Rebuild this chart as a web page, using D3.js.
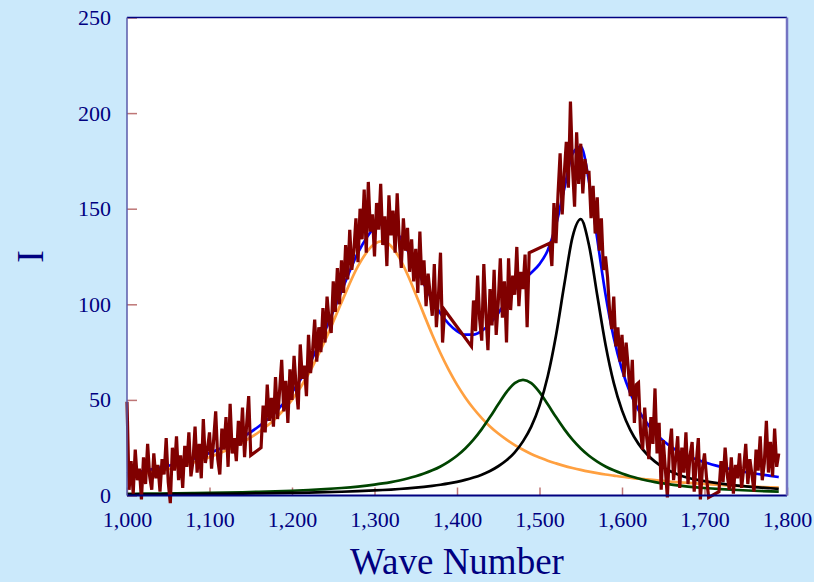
<!DOCTYPE html>
<html>
<head>
<meta charset="utf-8">
<script src="https://cdn.jsdelivr.net/npm/d3@7"></script>
<style>
  html, body { margin: 0; padding: 0; background: #cbe9fb; }
  svg { display: block; font-family: "Liberation Serif", "Times New Roman", serif; }
</style>
</head>
<body>
<div id="chart"></div>
<script>
//-- x positions where the fitted curves were sampled
const fitWave = [1000, 1020, 1040, 1060, 1080, 1100, 1120, 1140, 1160, 1180, 1200, 1220, 1240, 1260, 1280, 1300,
  1310, 1320, 1330, 1340, 1350, 1360, 1370, 1380, 1390, 1400, 1410, 1420, 1430, 1440, 1450, 1460, 1470, 1480, 1490,
  1500, 1510, 1520, 1530, 1540, 1550, 1560, 1570, 1580, 1590, 1600, 1610, 1620, 1630, 1640, 1650, 1660, 1670, 1680,
  1690, 1700, 1720, 1740, 1760, 1780, 1790];
//-- fit components
const fitOrange = [10.0, 11.3, 12.9, 14.8, 17.1, 20.0, 23.5, 27.8, 33.2, 40.2, 50.0, 63.5, 81.0, 101.0, 120.0, 131.6,
  133.0, 130.5, 124.4, 115.6, 105.3, 94.6, 84.1, 74.4, 65.7, 58.0, 51.3, 45.5, 40.5, 36.1, 32.4, 29.2, 26.3, 23.9, 21.7,
  19.9, 18.2, 16.8, 15.5, 14.4, 13.4, 12.5, 11.7, 11.0, 10.4, 9.8, 9.3, 8.8, 8.4, 8.0, 7.6, 7.2, 6.9, 6.6,
  6.3, 6.0, 5.5, 5.0, 4.6, 4.3, 4.1];
const fitGreen = [0.87, 0.95, 1.03, 1.13, 1.25, 1.38, 1.53, 1.71, 1.92, 2.18, 2.49, 2.87, 3.34, 3.93, 4.69, 5.69,
  6.31, 7.03, 7.87, 8.86, 10.04, 11.46, 13.16, 15.2, 17.75, 20.8, 24.6, 29.2, 34.7, 41.0, 47.7, 54.1, 58.8, 60.5, 58.8,
  54.1, 47.7, 41.0, 34.7, 29.2, 24.6, 20.8, 17.75, 15.2, 13.16, 11.46, 10.04, 8.86, 7.87, 7.03, 6.31, 5.69, 5.16, 4.69,
  4.29, 3.93, 3.34, 2.87, 2.49, 2.18, 2.05];
const fitBlack = [0.55, 0.59, 0.64, 0.70, 0.76, 0.82, 0.90, 0.99, 1.10, 1.22, 1.36, 1.53, 1.73, 1.97, 2.27, 2.65,
  2.87, 3.12, 3.40, 3.73, 4.10, 4.53, 5.04, 5.63, 6.32, 7.16, 8.16, 9.39, 10.9, 12.8, 15.3, 18.4, 22.6, 28.3, 36.0,
  47.0, 62.4, 83.7, 110.2, 135.1, 144.5, 130.9, 104.7, 79.0, 58.9, 44.5, 34.3, 27.0, 21.7, 17.7, 14.7, 12.4, 10.6, 9.3,
  8.3, 7.5, 6.2, 5.2, 4.4, 3.8, 3.5];
const fitTotal = [11.4, 12.8, 14.6, 16.6, 19.1, 22.2, 25.9, 30.5, 36.2, 43.6, 53.9, 67.9, 86.1, 106.9, 127.0, 139.9,
  142.2, 140.7, 135.7, 128.2, 119.4, 110.6, 102.3, 95.2, 89.8, 86.0, 84.1, 84.1, 86.1, 89.9, 95.4, 101.7, 107.7, 112.7, 116.5,
  121.0, 128.3, 141.5, 160.4, 178.7, 182.5, 164.2, 134.2, 105.2, 82.5, 65.8, 53.6, 44.7, 38.0, 32.7, 28.6, 25.3, 22.7, 20.6,
  18.9, 17.4, 15.0, 13.1, 11.5, 10.3, 9.65];

//-- measured spectrum, one value every 2.5 from 1000 (null = no point)
const measStart = 1000;
const measStep = 2.5;
const measI = [
  49, 3, 18, 1, 24, 8, 14, -2,
  20, 6, 27, 10, 3, 22, 9, 16,
  2, 19, 11, 30, 7, -4, 25, 13,
  31, 8, 21, 4, 26, 15, 33, 10,
  18, 36, 12, 27, 9, 40, 17, 24,
  33, 14, 29, 44, 19, 11, 35, 24,
  41, 15, 48, 22, 30, 18, 39, 26,
  46, 20, 37, 52, 21, null, null, null,
  null, 25, 47, 33, 58, 39, 51, 36,
  62, 40, 55, 71, 44, 60, 38, 66,
  50, 73, 57, 45, 79, 61, 68, 52,
  84, 64, 76, 92, 70, 88, 75, 98,
  80, 104, 91, 85, 112, 96, 119, 100,
  123, 106, 131, 113, 139, 118, 128, 145,
  122, 150, 134, 160, 127, 164, 138, 147,
  125, 153, 139, 163, 131, 146, 120, 157,
  136, 149, 127, 158, 133, 119, 145, 128,
  140, 117, 134, 112, 129, 106, 138, 110,
  123, 99, 116, 105, 94, 121, 88, 104,
  127, 80, 97, null, null, null, null, null,
  null, null, null, null, null, null, null, 78,
  102, 86, 115, 92, 81, 121, 95, 76,
  108, 89, 118, 84, 101, 124, 93, 112,
  80, 124, 97, 115, 105, 130, 99, 117,
  108, 126, 88, 127, null, null, null, null,
  null, null, null, null, null, 132, 120, 153,
  132, 158, 179, 147, 168, 185, 161, 206,
  172, 151, 190, 163, 184, 158, 176, 169,
  169, 145, 162, 137, 156, 128, 145, 118,
  125, 114, 96, 87, 104, 78, 88, 70,
  84, 62, 80, 67, 52, 71, 38, 58,
  59, 33, 24, 46, 30, 19, 41, 27,
  56, 22, 38, 3, 29, 14, -1, 24,
  35, 8, 19, 31, 4, 25, 12, 33,
  6, 21, 28, 2, 17, 30, -2, 14,
  22, 9, -1, null, null, null, null, 2,
  18, 7, 25, 11, 3, 20, 1, 16,
  9, 22, 4, 14, 27, 6, 19, 11,
  2, 24, 13, 31, 8, 17, 39, 12,
  28, 10, 35, 15, 22
];

const xTicks = [1000, 1100, 1200, 1300, 1400, 1500, 1600, 1700, 1800];
const yTicks = [0, 50, 100, 150, 200, 250];

//-- dimensions
const width = 814;
const height = 582;
const margin = { top: 17.5, right: 27, bottom: 86.5, left: 127 };
const innerW = width - margin.left - margin.right;
const innerH = height - margin.top - margin.bottom;
const navy = "#000080";

const svg = d3.select("#chart").append("svg")
  .attr("width", width)
  .attr("height", height);

svg.append("rect").attr("width", width).attr("height", height).attr("fill", "#cbe9fb");

const g = svg.append("g").attr("transform", `translate(${margin.left},${margin.top})`);

const x = d3.scaleLinear().domain([1000, 1800]).range([0, innerW]);
const y = d3.scaleLinear().domain([0, 250]).range([innerH, 0]);

//-- plot area
g.append("rect").attr("width", innerW).attr("height", innerH).attr("fill", "#fff");

//-- axes (ticks point inward)
const xAxis = g.append("g")
  .attr("transform", `translate(0,${innerH})`)
  .call(d3.axisBottom(x).tickValues(xTicks).tickFormat(d3.format(",")).tickSizeInner(-8).tickSizeOuter(0).tickPadding(16));
const yAxis = g.append("g")
  .call(d3.axisLeft(y).tickValues(yTicks).tickSizeInner(-10).tickSizeOuter(0).tickPadding(16));

[xAxis, yAxis].forEach((a) => {
  a.select(".domain").remove();
  a.selectAll("line").attr("stroke", "#a84848").attr("stroke-width", 1.5).attr("opacity", 0.75);
  a.selectAll("text").attr("fill", navy).style("font-size", "22px")
    .style("font-family", "'Liberation Serif', 'Times New Roman', serif");
});

//-- fitted curves
const fitLine = (vals) => d3.line()
  .x((d, i) => x(fitWave[i]))
  .y((d) => y(d))
  .curve(d3.curveMonotoneX)(vals);

const curves = [
  { vals: fitTotal, color: "#0000ff" },
  { vals: fitOrange, color: "#ffa040" },
  { vals: fitGreen, color: "#004400" },
  { vals: fitBlack, color: "#000000" }
];
curves.forEach((c) => {
  g.append("path")
    .attr("d", fitLine(c.vals))
    .attr("fill", "none")
    .attr("stroke", c.color)
    .attr("stroke-width", 2.7);
});

//-- measured data, missing points bridged by straight segments
const meas = measI
  .map((v, i) => ({ w: measStart + i * measStep, v: v }))
  .filter((d) => d.v !== null);

g.append("path")
  .datum(meas)
  .attr("d", d3.line().x((d) => x(d.w)).y((d) => y(d.v)))
  .attr("fill", "none")
  .attr("stroke", "#800000")
  .attr("stroke-width", 3.2);

//-- frame
const frame = [
  { x1: 0, y1: 0, x2: innerW, y2: 0, c: navy, w: 1.5 },
  { x1: 0, y1: innerH, x2: innerW, y2: innerH, c: navy, w: 2 },
  { x1: 0, y1: 0, x2: 0, y2: innerH, c: "#5a5aaa", w: 1.5 },
  { x1: innerW, y1: 0, x2: innerW, y2: innerH, c: "#7474c2", w: 2.5 }
];
g.selectAll(".frame").data(frame).join("line")
  .attr("class", "frame")
  .attr("x1", (d) => d.x1).attr("y1", (d) => d.y1)
  .attr("x2", (d) => d.x2).attr("y2", (d) => d.y2)
  .attr("stroke", (d) => d.c).attr("stroke-width", (d) => d.w);

//-- axis titles
svg.append("text")
  .attr("x", margin.left + innerW / 2)
  .attr("y", 574)
  .attr("text-anchor", "middle")
  .attr("fill", navy)
  .style("font-size", "37px")
  .text("Wave Number");

svg.append("text")
  .attr("transform", `translate(43,${margin.top + innerH / 2}) rotate(-90)`)
  .attr("text-anchor", "middle")
  .attr("fill", navy)
  .style("font-size", "38px")
  .text("I");
</script>
</body>
</html>
